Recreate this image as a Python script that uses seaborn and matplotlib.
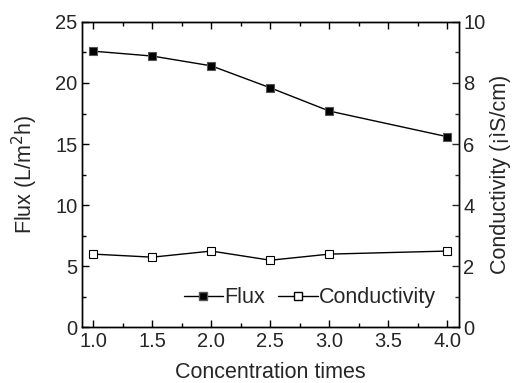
import matplotlib
matplotlib.use('Agg')
import matplotlib.pyplot as plt
from matplotlib.ticker import MultipleLocator
from matplotlib.lines import Line2D
import seaborn as sns
import pandas as pd

# data
conc_times = [1.0, 1.5, 2.0, 2.5, 3.0, 4.0]
flux = [22.6, 22.2, 21.4, 19.6, 17.7, 15.6]
conductivity = [2.40, 2.30, 2.50, 2.20, 2.40, 2.50]

df = pd.DataFrame({'times': conc_times, 'flux': flux, 'cond': conductivity})

sns.set_style('ticks')
plt.rcParams['font.family'] = ['Liberation Sans', 'DejaVu Sans']
plt.rcParams['font.size'] = 14.5

tick_fs = 14.5
label_fs = 15.5

fig, ax = plt.subplots(figsize=(5.26, 3.83), dpi=100)
ax2 = ax.twinx()

sns.lineplot(data=df, x='times', y='flux', ax=ax, color='black', lw=1,
             marker='s', markersize=6, markerfacecolor='black',
             markeredgecolor='#555555', markeredgewidth=0.8)
sns.lineplot(data=df, x='times', y='cond', ax=ax2, color='black', lw=1,
             marker='s', markersize=6, markerfacecolor='white',
             markeredgecolor='black', markeredgewidth=0.8)

ax.set_xlim(0.9, 4.1)
ax.set_ylim(0, 25)
ax2.set_ylim(0, 10)
ax.xaxis.set_major_locator(MultipleLocator(0.5))
ax.xaxis.set_minor_locator(MultipleLocator(0.25))
ax.yaxis.set_major_locator(MultipleLocator(5))
ax.yaxis.set_minor_locator(MultipleLocator(2.5))
ax2.yaxis.set_major_locator(MultipleLocator(2))
ax2.yaxis.set_minor_locator(MultipleLocator(1))
ax.xaxis.set_major_formatter(plt.FormatStrFormatter('%.1f'))

ax.tick_params(axis='both', which='both', direction='in', top=True, right=False,
               labelsize=tick_fs, color='black', pad=3)
ax.tick_params(which='major', length=5, width=1)
ax.tick_params(which='minor', length=3, width=1)
ax2.tick_params(axis='y', which='both', direction='in', labelsize=tick_fs, pad=3)
ax2.tick_params(which='major', length=5, width=1)
ax2.tick_params(which='minor', length=3, width=1)

for a in (ax, ax2):
    for s in a.spines.values():
        s.set_visible(True)
        s.set_color('black')
        s.set_linewidth(1)

ax.set_xlabel('Concentration times', fontsize=label_fs, labelpad=8)
ax.set_ylabel('Flux (L/m$^2$h)', fontsize=label_fs, labelpad=11)
ax2.set_ylabel('Conductivity (¡ìS/cm)', fontsize=label_fs, labelpad=3)

handles = [
    Line2D([], [], color='black', lw=1, marker='s', markersize=6,
           markerfacecolor='black', markeredgecolor='#555555'),
    Line2D([], [], color='black', lw=1, marker='s', markersize=6,
           markerfacecolor='white', markeredgecolor='black'),
]
ax.legend(handles, ['Flux', 'Conductivity'], loc='lower right', ncol=2,
          frameon=False, fontsize=label_fs, handlelength=1.85, handletextpad=0.05,
          columnspacing=0.6, bbox_to_anchor=(0.99, 0.0))

fig.subplots_adjust(left=0.155, right=0.873, top=0.943, bottom=0.145)
fig.savefig('out.png', dpi=100)
